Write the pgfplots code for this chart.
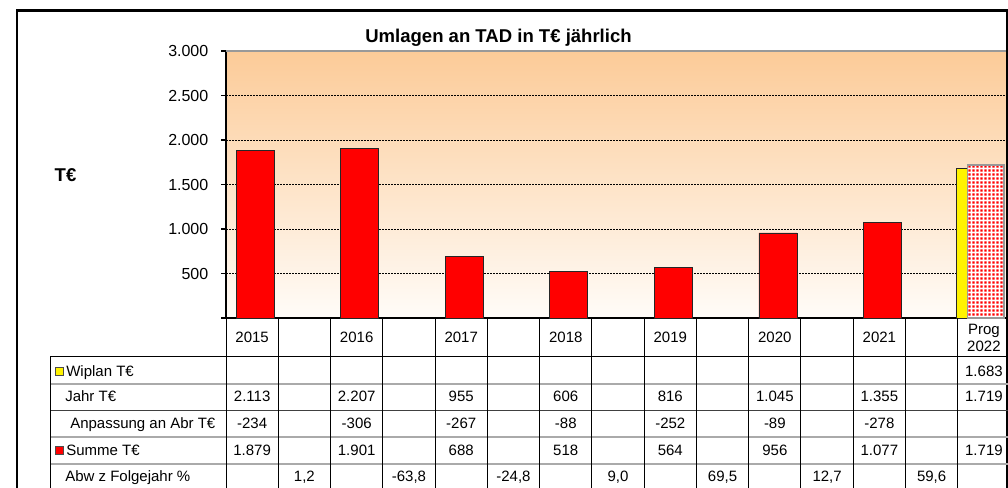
\documentclass[border=0pt]{standalone}
\usepackage{fontspec}
\setmainfont{Liberation Sans}
\usepackage{pgfplots}
\pgfplotsset{compat=1.18}
\usetikzlibrary{patterns}

\definecolor{bgtop}{RGB}{252,203,152}
\definecolor{bgbot}{RGB}{255,252,248}
\definecolor{rowgray}{RGB}{170,170,170}

% small red squares for the forecast bar
\pgfdeclarepatternformonly{reddots}{\pgfqpoint{0pt}{0pt}}{\pgfqpoint{3pt}{3pt}}{\pgfqpoint{3pt}{3pt}}{%
  \pgfpathrectangle{\pgfqpoint{0.4pt}{0.4pt}}{\pgfqpoint{2pt}{2pt}}\pgfusepath{fill}}

\newcommand\tf{\fontsize{11.25}{13}\selectfont}
% table cell: column, baseline (px), text
\newcommand\cell[3]{\node[anchor=base,font=\tf,inner sep=0pt] at ({226+52.27*(#1+0.5)},#2) {#3};}

\begin{document}
\begin{tikzpicture}
\path[use as bounding box, clip] (0pt,0pt) rectangle (756pt,-366pt);
\begin{axis}[
  at={(169.5pt,-238.5pt)}, anchor=south west,
  scale only axis, width=588pt, height=200.25pt,
  xmin=0, xmax=15, ymin=0, ymax=3000,
  axis lines=left, axis line style={-, black, line width=1.1pt},
  xtick=\empty,
  ytick={0,500,...,3000},
  yticklabels={,500,1.000,1.500,2.000,2.500,3.000},
  tick align=outside, major tick length=3.75pt,
  tick style={black, line width=0.8pt},
  yticklabel style={font=\fontsize{12}{14}\selectfont, xshift=-6pt},
  ymajorgrids, grid style={black, line width=0.6pt, dash pattern=on 1.5pt off 0.75pt},
  axis background/.style={top color=bgtop, bottom color=bgbot},
  clip=false,
]
% Summe T€
\addplot[ybar, bar width=0.727, bar shift=0pt, fill=red, draw=black!85, line width=0.6pt]
  coordinates {(0.56,1879) (2.56,1901) (4.56,688) (6.56,518) (8.56,564) (10.56,956) (12.56,1077)};
% Wiplan T€
\addplot[ybar, bar width=0.216, bar shift=0pt, fill=yellow, draw=black!85, line width=0.6pt]
  coordinates {(14.09,1683)};
% Prog 2022
\addplot[ybar, bar width=0.69, bar shift=0pt, fill=white, draw=none]
  coordinates {(14.54,1719)};
\addplot[ybar, bar width=0.69, bar shift=0pt, pattern=reddots, pattern color=red, draw=gray!80, line width=0.8pt]
  coordinates {(14.54,1719)};
\draw[gray!80, line width=1.5pt] (axis cs:0,3000) -- (axis cs:15,3000);
\end{axis}

\begin{scope}[x=0.75pt, y=-0.75pt]
  % outer frame
  \draw[line width=2pt] (17,492) -- (17,10.5) -- (1007,10.5) -- (1007,492);
  \node[anchor=base, font=\fontsize{13.9}{16}\selectfont\bfseries, inner sep=0pt] at (498.5,43) {Umlagen an TAD in T€ jährlich};
  \node[font=\fontsize{13.9}{16}\selectfont\bfseries, inner sep=0pt] at (65.5,175) {T€};

  % table grid
  \draw[black, line width=0.75pt] (50,357) -- (1010,357);
  \draw[rowgray, line width=1.5pt] (50,384) -- (1010,384);
  \draw[black!75, line width=0.75pt] (50,411) -- (1010,411);
  \draw[rowgray, line width=1.5pt] (50,437.5) -- (1010,437.5);
  \draw[rowgray, line width=1.5pt] (50,464) -- (1010,464);
  \foreach \k in {0,...,15} {\draw[black, line width=0.75pt] ({226+52.27*\k},318) -- ({226+52.27*\k},492);}
  \draw[black, line width=0.75pt] (50,357) -- (50,492);

  % row labels
  \filldraw[fill=yellow, draw=black!70, line width=0.5pt] (55.5,367.5) rectangle (63,375);
  \filldraw[fill=red, draw=black!70, line width=0.5pt] (55.5,446.5) rectangle (63,454);
  \node[anchor=base west, font=\tf, inner sep=0pt] at (66,376.5) {Wiplan T€};
  \node[anchor=base west, font=\tf, inner sep=0pt] at (65,402) {Jahr T€};
  \node[anchor=base west, font=\tf, inner sep=0pt] at (70,429) {Anpassung an Abr T€};
  \node[anchor=base west, font=\tf, inner sep=0pt] at (66,455.5) {Summe T€};
  \node[anchor=base west, font=\tf, inner sep=0pt] at (65,482) {Abw z Folgejahr \%};

  % header
  \foreach \c/\t in {0/2015,2/2016,4/2017,6/2018,8/2019,10/2020,12/2021} {\cell{\c}{343}{\t}}
  \cell{14}{335}{Prog}
  \cell{14}{352}{2022}

  % Wiplan
  \cell{14}{376.5}{1.683}
  % Jahr
  \foreach \c/\t in {0/2.113,2/2.207,4/955,6/606,8/816,10/1.045,12/1.355,14/1.719} {\cell{\c}{402}{\t}}
  % Anpassung
  \foreach \c/\t in {0/-234,2/-306,4/-267,6/-88,8/-252,10/-89,12/-278} {\cell{\c}{429}{\t}}
  % Summe
  \foreach \c/\t in {0/1.879,2/1.901,4/688,6/518,8/564,10/956,12/1.077,14/1.719} {\cell{\c}{455.5}{\t}}
  % Abw
  \cell{1}{482}{1,2}
  \cell{3}{482}{-63,8}
  \cell{5}{482}{-24,8}
  \cell{7}{482}{9,0}
  \cell{9}{482}{69,5}
  \cell{11}{482}{12,7}
  \cell{13}{482}{59,6}
\end{scope}
\end{tikzpicture}
\end{document}
